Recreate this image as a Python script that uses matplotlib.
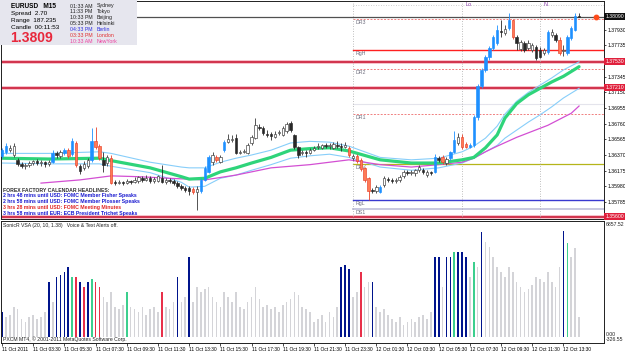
import matplotlib
matplotlib.use("Agg")
import matplotlib.pyplot as plt
import numpy as np

W, H = 625, 352
plt.rcParams["font.family"] = ["Liberation Sans", "DejaVu Sans"]

# ---- EURUSD M15, prices in points (13643 -> 1.3643) ----
opens = [13636, 13641, 13643, 13637, 13631, 13626, 13623, 13625, 13627, 13630,
         13627, 13628, 13626, 13628, 13639, 13636, 13639, 13643, 13638, 13652,
         13623, 13621, 13623, 13631, 13654, 13648, 13631, 13627, 13633, 13603,
         13602, 13603, 13602, 13605, 13603, 13605, 13608, 13606, 13608, 13605,
         13605, 13608, 13603, 13606, 13605, 13602, 13598, 13596, 13596, 13595,
         13591, 13592, 13606, 13616, 13628, 13634, 13628, 13643, 13653, 13656,
         13658, 13639, 13641, 13639, 13652, 13658, 13672, 13671, 13663, 13663,
         13659, 13664, 13662, 13667, 13677, 13662, 13647, 13639, 13641, 13639,
         13643, 13647, 13646, 13649, 13648, 13646, 13649, 13648, 13647, 13646,
         13633, 13636, 13631, 13621, 13608, 13593, 13592, 13591, 13600, 13607,
         13606, 13605, 13606, 13611, 13616, 13615, 13615, 13618, 13618, 13612,
         13616, 13616, 13633, 13634, 13627, 13633, 13641, 13652, 13659, 13651,
         13647, 13649, 13684, 13723, 13743, 13759, 13770, 13776, 13791, 13789,
         13795, 13805, 13784, 13769, 13776, 13770, 13768, 13771, 13768, 13764,
         13765, 13786, 13786, 13780, 13766, 13764, 13783, 13793, 13810]
highs = [13646, 13652, 13649, 13652, 13633, 13628, 13627, 13630, 13631, 13632,
         13631, 13630, 13631, 13643, 13642, 13643, 13646, 13646, 13658, 13654,
         13626, 13630, 13633, 13671, 13672, 13651, 13641, 13637, 13637, 13606,
         13606, 13605, 13607, 13606, 13610, 13611, 13611, 13612, 13611, 13610,
         13612, 13625, 13608, 13608, 13607, 13605, 13601, 13598, 13598, 13597,
         13598, 13608, 13623, 13637, 13641, 13637, 13637, 13656, 13663, 13662,
         13663, 13643, 13644, 13652, 13662, 13683, 13676, 13673, 13668, 13666,
         13667, 13668, 13673, 13678, 13679, 13663, 13648, 13643, 13643, 13646,
         13648, 13652, 13651, 13652, 13652, 13653, 13654, 13652, 13653, 13648,
         13638, 13638, 13633, 13622, 13610, 13596, 13600, 13600, 13611, 13610,
         13608, 13608, 13612, 13618, 13618, 13618, 13620, 13625, 13621, 13618,
         13617, 13638, 13636, 13637, 13634, 13642, 13667, 13664, 13663, 13653,
         13652, 13687, 13725, 13745, 13761, 13773, 13786, 13799, 13805, 13799,
         13814, 13806, 13786, 13780, 13779, 13780, 13776, 13774, 13771, 13770,
         13793, 13794, 13789, 13784, 13774, 13786, 13798, 13814, 13814]
lows = [13633, 13638, 13641, 13634, 13623, 13621, 13620, 13622, 13625, 13625,
        13623, 13622, 13623, 13627, 13633, 13633, 13637, 13633, 13636, 13622,
        13613, 13618, 13621, 13628, 13644, 13631, 13616, 13623, 13601, 13600,
        13601, 13600, 13601, 13601, 13602, 13602, 13603, 13605, 13602, 13602,
        13603, 13602, 13601, 13602, 13600, 13596, 13593, 13591, 13587, 13588,
        13569, 13590, 13605, 13615, 13625, 13628, 13627, 13641, 13652, 13653,
        13638, 13638, 13639, 13638, 13649, 13657, 13668, 13662, 13659, 13656,
        13658, 13662, 13661, 13664, 13666, 13644, 13633, 13637, 13634, 13638,
        13642, 13644, 13644, 13646, 13644, 13644, 13646, 13642, 13646, 13634,
        13631, 13627, 13617, 13603, 13581, 13590, 13590, 13590, 13597, 13603,
        13602, 13602, 13603, 13608, 13612, 13612, 13611, 13616, 13613, 13610,
        13612, 13615, 13628, 13626, 13625, 13631, 13639, 13649, 13644, 13646,
        13646, 13647, 13681, 13720, 13740, 13755, 13768, 13774, 13784, 13786,
        13793, 13781, 13768, 13766, 13765, 13768, 13765, 13755, 13758, 13761,
        13763, 13784, 13778, 13761, 13760, 13761, 13780, 13791, 13809]
closes = [13643, 13648, 13646, 13648, 13626, 13623, 13625, 13627, 13630, 13627,
          13628, 13626, 13628, 13639, 13637, 13641, 13643, 13636, 13654, 13625,
          13617, 13626, 13631, 13654, 13647, 13633, 13625, 13634, 13602, 13602,
          13603, 13602, 13605, 13603, 13606, 13610, 13606, 13608, 13605, 13607,
          13611, 13603, 13606, 13605, 13602, 13598, 13596, 13593, 13592, 13591,
          13595, 13606, 13621, 13634, 13637, 13631, 13634, 13653, 13657, 13657,
          13639, 13641, 13642, 13649, 13659, 13674, 13671, 13664, 13662, 13661,
          13663, 13666, 13671, 13676, 13668, 13647, 13637, 13641, 13639, 13643,
          13646, 13648, 13649, 13648, 13649, 13651, 13648, 13647, 13649, 13637,
          13636, 13630, 13620, 13606, 13592, 13592, 13597, 13597, 13608, 13606,
          13605, 13606, 13610, 13616, 13615, 13616, 13618, 13622, 13616, 13616,
          13615, 13634, 13631, 13628, 13632, 13641, 13656, 13659, 13647, 13647,
          13649, 13684, 13723, 13743, 13759, 13770, 13784, 13793, 13790, 13794,
          13805, 13784, 13776, 13778, 13768, 13776, 13774, 13758, 13759, 13768,
          13790, 13790, 13780, 13764, 13768, 13784, 13795, 13810, 13809]

# bars painted by the indicator
blue_bars = [0, 1, 13, 16, 18, 23, 51, 52, 53, 57, 97, 111, 115, 116, 120, 121, 122,
             123, 124, 125, 126, 127, 130, 140, 145, 146, 147]
red_bars = [17, 19, 24, 25, 28, 49, 55, 89, 91, 92, 93, 94, 113, 118, 119, 131, 143]

# moving averages (sampled bars)
ma_idx = [0, 12, 25, 28, 38, 46, 48, 52, 56, 60, 64, 69, 74, 79, 84, 89, 97, 105, 112,
          118, 121, 124, 127, 129, 132, 135, 138, 141, 144, 148]
ma_mid = [13633, 13632, 13633, 13630, 13621, 13610, 13607, 13608, 13616, 13621, 13627,
          13634, 13643, 13645, 13646, 13642, 13631, 13627, 13627, 13631, 13634, 13646,
          13662, 13683, 13701, 13712, 13720, 13728, 13735, 13747]
ma_up = [13639, 13639, 13641, 13639, 13628, 13622, 13621, 13621, 13628, 13633, 13637,
         13643, 13652, 13654, 13653, 13648, 13634, 13631, 13633, 13641, 13648, 13658,
         13673, 13688, 13704, 13715, 13724, 13733, 13743, 13753]
ma_dn = [13627, 13626, 13626, 13623, 13615, 13603, 13597, 13598, 13608, 13612, 13618,
         13625, 13633, 13636, 13638, 13634, 13622, 13618, 13621, 13627, 13633, 13641,
         13649, 13658, 13668, 13678, 13687, 13697, 13708, 13720]
slow_idx = [10, 20, 28, 35, 43, 52, 60, 69, 79, 89, 97, 105, 112, 118, 121, 124, 127,
            132, 140, 146, 148]
slow_ma = [13602, 13606, 13611, 13610, 13608, 13606, 13612, 13621, 13625, 13631, 13625,
           13622, 13625, 13628, 13633, 13641, 13648, 13659, 13674, 13689, 13698]

# SonicR VSA volume
volume = [1500, 1200, 1320, 1800, 1680, 1080, 900, 1200, 1320, 1080,
          1200, 1500, 3300, 2100, 3600, 3720, 3900, 4200, 3600, 3600,
          3300, 3000, 3300, 3480, 3300, 3000, 2400, 2100, 2700, 1800,
          1680, 1920, 2700, 1800, 1680, 1500, 1800, 1320, 1680, 1800,
          1500, 2700, 1800, 1680, 2100, 3600, 2100, 2400, 4800, 2100,
          3000, 2700, 2880, 3000, 2400, 2100, 1800, 2700, 2400, 2100,
          2700, 1800, 1680, 2100, 2400, 3000, 2280, 1800, 1920, 1680,
          1800, 1500, 1920, 2100, 2280, 2700, 2520, 1800, 1680, 1500,
          900, 1080, 1320, 900, 1500, 1200, 1800, 4200, 4320, 4080,
          2400, 2700, 3900, 3000, 3300, 3300, 1800, 1500, 1680, 1320,
          1080, 900, 1200, 720, 900, 1080, 900, 1200, 1320, 1080,
          1500, 4800, 4800, 3000, 4800, 4800, 5100, 5100, 5100, 4800,
          3600, 4500, 4200, 6300, 5700, 5400, 4800, 4200, 3900, 3600,
          4200, 3900, 3300, 3000, 2700, 2880, 3120, 3600, 3480, 3300,
          3900, 3300, 3000, 4200, 6360, 5640, 4800, 5340, 1200]
vol_blue = [0, 12, 14, 15, 16, 17, 20, 22, 45, 48, 87, 88, 89, 95, 111, 112, 114, 115,
            117, 118, 119, 123, 144]
vol_green = [18, 23, 32, 116, 121, 145]
vol_red = [19, 21, 24, 25, 41, 92]

time_idx = list(range(0, 145, 8))
time_labels = ["11 Oct 2011", "11 Oct 03:30", "11 Oct 05:30", "11 Oct 07:30",
               "11 Oct 09:30", "11 Oct 11:30", "11 Oct 13:30", "11 Oct 15:30",
               "11 Oct 17:30", "11 Oct 19:30", "11 Oct 21:30", "11 Oct 23:30",
               "12 Oct 01:30", "12 Oct 03:30", "12 Oct 05:30", "12 Oct 07:30",
               "12 Oct 09:30", "12 Oct 11:30", "12 Oct 13:30"]
price_ticks = [1.37930, 1.37735, 1.37345, 1.37150, 1.36955, 1.36760, 1.36565,
               1.36370, 1.36175, 1.35980, 1.35785]

bid = 1.3809
pivots = {"DR3": 1.3806, "RgH": 1.3768, "DR2": 1.3744, "DR1": 1.3688,
          "DPV": 1.3626, "RgL": 1.3581, "DS1": 1.3570}
wide_lines = [1.3753, 1.3721, 1.3560]
session_bars = [90, 118, 138]

o = np.array(opens) / 1e4
h = np.array(highs) / 1e4
l = np.array(lows) / 1e4
c = np.array(closes) / 1e4
x = np.arange(len(o))


def px_axes(fig, x0, y0, x1, y1):
    return fig.add_axes([x0 / W, 1 - y1 / H, (x1 - x0) / W, (y1 - y0) / H])


def px_text(px, py, s, **kw):
    return fig.text(px / W, 1 - py / H, s, **kw)


fig = plt.figure(figsize=(W / 100, H / 100), dpi=100)
fig.patch.set_facecolor("white")
ax = px_axes(fig, 1, 1, 604, 219)
av = px_axes(fig, 1, 221, 604, 343)
for a in (ax, av):
    a.set_xlim(-0.26, 154.4)
    for s in a.spines.values():
        s.set_linewidth(0.7)
        s.set_color("#202020")
ax.set_ylim(1.35573, 1.38288)
av.set_ylim(-361, 6977)

# ---- price pane ----
for p in wide_lines:
    ax.axhline(p, color="#f6b4bf", lw=2.6, zorder=1)
    ax.axhline(p, color="#c8102e", lw=1.1, zorder=1)
ax.axhline(bid, color="#505050", lw=0.9, zorder=1)
ax.plot([90, 154.4], [1.3824, 1.3824], color="#c0c0c0", lw=0.6, ls=(0, (1, 2)), zorder=1)
ax.plot([90, 154.4], [1.3700, 1.3700], color="#e4e4ec", lw=0.8, zorder=1)
styles = {"DR3": ("#f08080", (0, (2, 1.5)), 0.7), "RgH": ("#ff2020", "-", 1.0),
          "DR2": ("#f08080", (0, (2, 1.5)), 0.7), "DR1": ("#f08080", (0, (2, 1.5)), 0.7),
          "DPV": ("#b5b51a", "-", 0.9), "RgL": ("#3a3ad0", "-", 1.0),
          "DS1": ("#c8c8e0", "-", 1.4)}
for name, p in pivots.items():
    col, ls, lw = styles[name]
    ax.plot([90, 154.4], [p, p], color=col, ls=ls, lw=lw, zorder=1)
    ax.text(90.6, p - 0.00012, name, fontsize=3.8, color="#707080", va="top", ha="left", zorder=2)
for sb in session_bars:
    ax.axvline(sb, color="#a8a8a8", lw=0.6, ls=(0, (1, 2)), zorder=1)
ax.text(119, 1.3825, "Lo", fontsize=4, color="#8a3cab", va="center")
ax.text(139, 1.3825, "N", fontsize=4, color="#8a3cab", va="center")

xi = np.array(ma_idx)
ax.plot(xi, np.array(ma_up) / 1e4, color="#87cefa", lw=0.8, zorder=2)
ax.plot(xi, np.array(ma_dn) / 1e4, color="#87cefa", lw=0.8, zorder=2)
ax.plot(np.array(slow_idx), np.array(slow_ma) / 1e4, color="#d34fd3", lw=0.9, zorder=2)
ax.plot(xi, np.array(ma_mid) / 1e4, color="#2ed47a", lw=2.3, zorder=2,
        solid_capstyle="round")

face, edge = [], []
for i in range(len(o)):
    if i in blue_bars:
        face.append("#1e90ff"); edge.append("#1e90ff")
    elif i in red_bars:
        face.append("#ff7a55"); edge.append("#e8402a")
    elif c[i] >= o[i]:
        face.append("white"); edge.append("#383838")
    else:
        face.append("#282828"); edge.append("#282828")
ax.vlines(x, l, h, colors=edge, lw=0.6, zorder=3)
body = np.maximum(np.abs(c - o), 0.00003)
ax.bar(x, body, bottom=np.minimum(o, c), width=0.62, color=face, edgecolor=edge,
       linewidth=0.45, zorder=4)
ax.plot([152.3], [bid], "o", color="#ff4a1a", ms=3.2, zorder=5)

ax.set_xticks([])
ax.yaxis.tick_right()
ax.set_yticks(price_ticks)
ax.set_yticklabels([f"{t:.5f}" for t in price_ticks])
ax.tick_params(axis="y", labelsize=3.7, length=1.5, pad=0.8, width=0.5)
label_box = dict(boxstyle="square,pad=0.2", lw=0)
ax.text(1.0025, bid, f"{bid:.5f}", transform=ax.get_yaxis_transform(), fontsize=3.7,
        color="white", va="center", bbox=dict(label_box, facecolor="#101010"))
for p in wide_lines:
    ax.text(1.0025, p, f"{p:.5f}", transform=ax.get_yaxis_transform(), fontsize=3.7,
            color="white", va="center", bbox=dict(label_box, facecolor="#e0203c"))

# news headlines
news = [("FOREX FACTORY CALENDAR HEADLINES:", "#303030"),
        ("2 hrs 48 mins until USD: FOMC Member Fisher Speaks", "#1a1ad0"),
        ("2 hrs 58 mins until USD: FOMC Member Plosser Speaks", "#1a1ad0"),
        ("3 hrs 28 mins until USD: FOMC Meeting Minutes", "#e02424"),
        ("3 hrs 58 mins until EUR: ECB President Trichet Speaks", "#1a1ad0")]
for k, (txt, col) in enumerate(news):
    px_text(3, 190 + 6 * k, txt, fontsize=3.7, fontweight="bold", color=col,
            va="center", ha="left")

# ---- volume pane ----
vcol = []
for i in range(len(volume)):
    if i in vol_blue:
        vcol.append("#00148c")
    elif i in vol_green:
        vcol.append("#3ccf8e")
    elif i in vol_red:
        vcol.append("#e8304a")
    else:
        vcol.append("#d4d4d8")
av.bar(x, volume, width=0.42, color=vcol, linewidth=0)
av.set_yticks([])
av.set_xticks(time_idx)
av.set_xticklabels(time_labels, ha="left")
av.tick_params(axis="x", labelsize=3.5, length=2, pad=0.6, width=0.5)
px_text(3, 226, "SonicR VSA (20, 10, 1.38)   Voice & Text Alerts off.", fontsize=3.7,
        va="center", color="#202020")
px_text(3, 339, "PXCM MT4, \u00a9 2001-2011 MetaQuotes Software Corp.", fontsize=3.7,
        va="center", color="#202020")
for py, txt in [(224, "6857.52"), (334.5, "0.00"), (339.5, "-326.55")]:
    px_text(606, py, txt, fontsize=3.7, va="center", color="#202020")

# ---- info panel ----
fig.patches.append(plt.Rectangle((0, 1 - 45 / H), 137 / W, 45 / H, transform=fig.transFigure,
                                 facecolor="#e6e6ee", edgecolor="none", zorder=10))
px_text(11, 6, "EURUSD   M15", fontsize=4.7, fontweight="bold", va="center", zorder=11)
for k, (lab, val) in enumerate([("Spread", "2.70"), ("Range", "187.235"),
                                ("Candle", "00:11:53")]):
    px_text(11, 14 + 6.7 * k, f"{lab}  {val}", fontsize=4.6, va="center", zorder=11)
px_text(10, 38, "1.3809", fontsize=10, fontweight="bold", color="#e8283c",
        va="center", zorder=11)
clocks = [("01:33 AM", "Sydney", "#202020"), ("11:33 PM", "Tokyo", "#202020"),
          ("10:33 PM", "Beijing", "#202020"), ("05:33 PM", "Helsinki", "#202020"),
          ("04:33 PM", "Berlin", "#3030e0"), ("03:33 PM", "London", "#e03030"),
          ("10:33 AM", "NewYork", "#ee40a0")]
for k, (t, city, col) in enumerate(clocks):
    px_text(70, 6 + 5.9 * k, t, fontsize=3.8, color=col, va="center", zorder=11)
    px_text(97, 6 + 5.9 * k, city, fontsize=3.8, color=col, va="center", zorder=11)

fig.savefig("out.png", dpi=100)
